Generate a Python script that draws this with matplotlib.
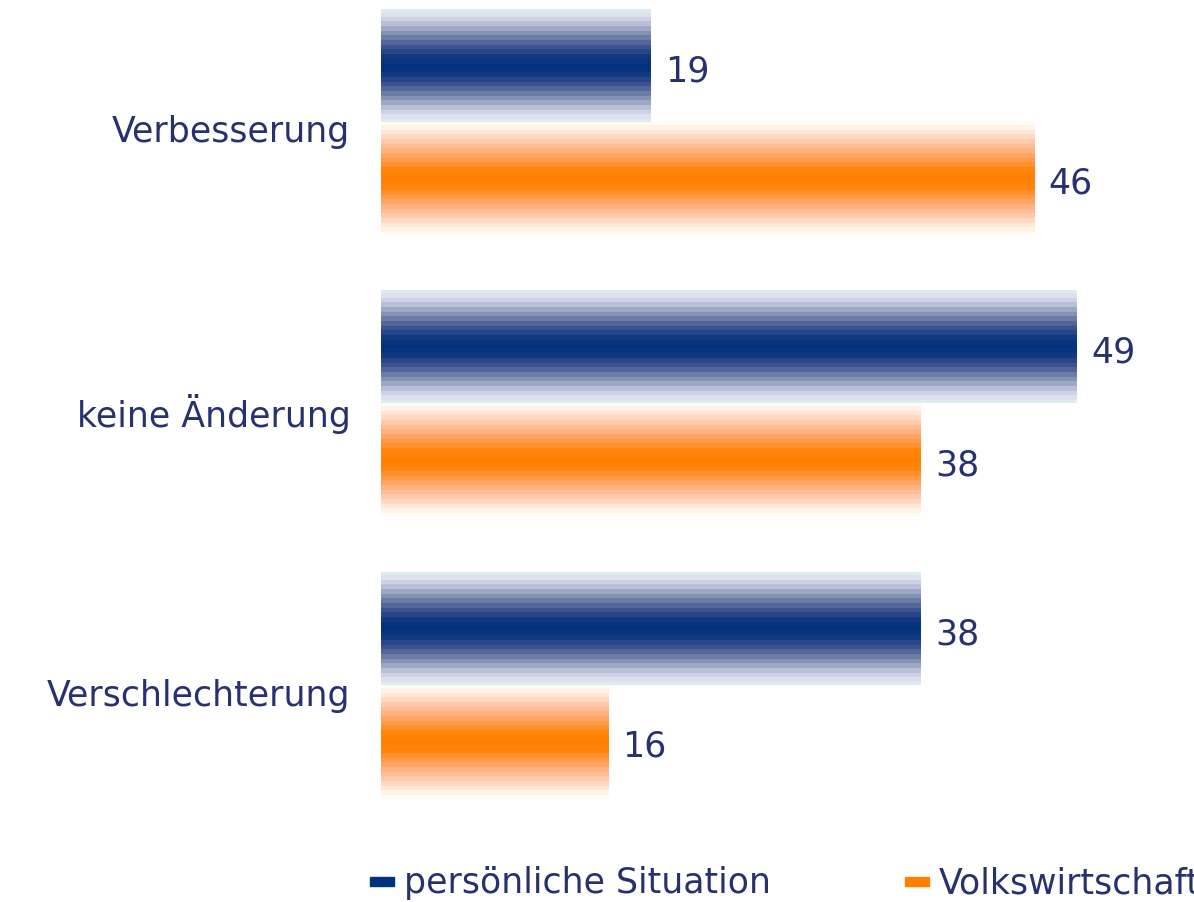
import numpy as np
import matplotlib.pyplot as plt
from matplotlib.patches import Rectangle
from matplotlib.colors import LinearSegmentedColormap

categories = ['Verbesserung', 'keine Änderung', 'Verschlechterung']
persoenlich = [19, 49, 38]
volkswirtschaft = [46, 38, 16]
series_names = ['persönliche Situation', 'Volkswirtschaft']

BLUE_STOPS = [(0.0, '#00327f'), (0.15, '#0f377f'), (0.35, '#3f5590'), (0.55, '#7a89ac'),
              (0.75, '#b9bfd6'), (0.88, '#dcdcec'), (1.0, '#dcedf0')]
ORANGE_STOPS = [(0.0, '#ff8000'), (0.15, '#ff8408'), (0.35, '#ff9c50'), (0.55, '#ffb88e'),
                (0.75, '#ffd8c2'), (0.88, '#ffeee2'), (1.0, '#fffdf0')]
BLUE, ORANGE = BLUE_STOPS[0][1], ORANGE_STOPS[0][1]
TEXT = '#28316f'


def gradient_img(stops, n=120, steps=12):
    cmap = LinearSegmentedColormap.from_list('g', stops)
    t = np.abs(np.linspace(-1, 1, n))
    t = np.round(t * steps) / steps
    return cmap(t)[:, None, :3]


fig = plt.figure(figsize=(11.94, 9.02), dpi=100)
ax = fig.add_axes([381 / 1194, 72 / 902, 813 / 1194, 830 / 902])

h = 0.4
for i, cat in enumerate(categories):
    for val, off, stops in [
        (persoenlich[i],     -0.2, BLUE_STOPS),
        (volkswirtschaft[i],  0.2, ORANGE_STOPS),
    ]:
        y = i + off
        ax.imshow(gradient_img(stops), extent=[0, val, y + h / 2, y - h / 2],
                  aspect='auto', interpolation='nearest', zorder=2)
        ax.text(val + 1.0, y + 0.02, str(val), va='center', ha='left',
                fontsize=25, color=TEXT)

ax.set_xlim(0, 57.25)
ax.set_ylim(2.515, -0.433)
ax.set_yticks([i + 0.025 for i in range(len(categories))])
ax.set_yticklabels(categories, fontsize=25, color=TEXT)
ax.tick_params(axis='y', length=0, pad=22)
ax.tick_params(axis='x', bottom=False, labelbottom=False)
for s in ax.spines.values():
    s.set_visible(False)

# legend along the bottom edge (cut off on the right like the original)
for name, color, x0 in zip(series_names, [BLUE, ORANGE], [370, 905]):
    fig.patches.append(Rectangle((x0 / 1194, 16 / 902), 24 / 1194, 9 / 902,
                                 transform=fig.transFigure, color=color))
    fig.text((x0 + 34) / 1194, 19 / 902, name, fontsize=25, color=TEXT, va='center')

fig.savefig('out.png', dpi=100)
